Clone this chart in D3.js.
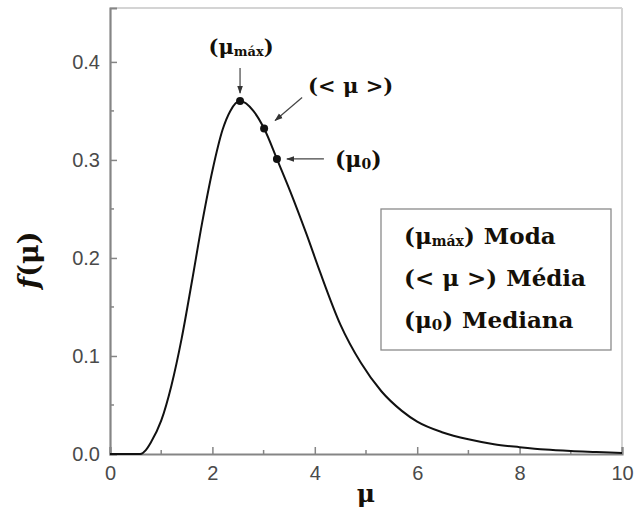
<!DOCTYPE html>
<html>
  <head>
    <meta charset="UTF-8">
    <title>f(mu)</title>
    <script src="https://d3js.org/d3.v7.min.js"></script>
    <style>
      body { margin: 0; background: #fff; }
      .serif { font-family: "DejaVu Serif", serif; font-weight: bold; fill: #151008; }
    </style>
  </head>
  <body>
    <svg width="636" height="511"></svg>
    <script>
      // curve values
      var mu = [0, 0.59, 0.7, 0.8, 1.0, 1.2, 1.4, 1.6, 1.8, 2.0, 2.2, 2.35, 2.54, 2.8, 3.01, 3.26, 3.52, 3.84, 4.1, 4.5, 4.9, 5.3, 5.7, 6.0, 6.5, 7.0, 7.5, 8.0, 8.5, 9.0, 9.5, 10];
      var f  = [0, 0, 0.004, 0.012, 0.034, 0.07, 0.118, 0.176, 0.236, 0.289, 0.331, 0.350, 0.360, 0.350, 0.332, 0.301, 0.268, 0.224, 0.186, 0.132, 0.093, 0.064, 0.044, 0.033, 0.022, 0.015, 0.010, 0.007, 0.0045, 0.003, 0.002, 0.001];

      // marked points: moda, media, mediana
      var pointMu = [2.54, 3.01, 3.26];
      var pointF = [0.360, 0.332, 0.301];

      var xTicks = [0, 2, 4, 6, 8, 10];
      var xMinor = [1, 3, 5, 7, 9];
      var yTicks = [0, 0.1, 0.2, 0.3, 0.4];
      var yMinor = [0.05, 0.15, 0.25, 0.35];

      var svg = d3.select("svg");
      var x = d3.scaleLinear().domain([0, 10]).range([110, 622]);
      var y = d3.scaleLinear().domain([0, 0.455]).range([454, 8]);

      // frame (top and right light)
      svg.append("line").attr("x1", x(0)).attr("x2", x(10)).attr("y1", y(0.455)).attr("y2", y(0.455))
        .attr("stroke", "#d4d4d4").attr("stroke-width", 2);
      svg.append("line").attr("x1", x(10)).attr("x2", x(10)).attr("y1", y(0.455)).attr("y2", y(0))
        .attr("stroke", "#d4d4d4").attr("stroke-width", 2);

      // axes
      var axisColor = "#858585";
      var gx = svg.append("g").attr("transform", "translate(0," + y(0) + ")");
      gx.call(d3.axisBottom(x).tickValues(xTicks).tickSize(-7).tickPadding(12).tickFormat(d3.format("d")));
      gx.selectAll(".minor").data(xMinor).enter().append("line")
        .attr("x1", d => x(d)).attr("x2", d => x(d)).attr("y1", 0).attr("y2", -4)
        .attr("stroke", axisColor).attr("stroke-width", 1.5);

      var gy = svg.append("g").attr("transform", "translate(" + x(0) + ",0)");
      gy.call(d3.axisLeft(y).tickValues(yTicks).tickSize(-7).tickPadding(10).tickFormat(d3.format(".1f")));
      gy.selectAll(".minor").data(yMinor).enter().append("line")
        .attr("x1", 0).attr("x2", 4).attr("y1", d => y(d)).attr("y2", d => y(d))
        .attr("stroke", axisColor).attr("stroke-width", 1.5);

      svg.selectAll(".domain").attr("stroke", axisColor).attr("stroke-width", 2.2);
      svg.selectAll(".tick line").attr("stroke", axisColor).attr("stroke-width", 1.5);
      svg.selectAll(".tick text").attr("fill", "#4a4a4a")
        .style("font-family", "Liberation Sans, Arial, sans-serif").style("font-size", "20px");

      // curve
      var line = d3.line()
        .x(function(d, i) { return x(mu[i]); })
        .y(function(d) { return y(d); })
        .curve(d3.curveMonotoneX);

      svg.append("path")
        .datum(f)
        .attr("fill", "none")
        .attr("stroke", "#111")
        .attr("stroke-width", 2)
        .attr("d", line);

      // points
      svg.selectAll(".pt").data(pointMu).enter().append("circle")
        .attr("cx", d => x(d)).attr("cy", (d, i) => y(pointF[i])).attr("r", 4).attr("fill", "#111");

      // arrows
      svg.append("defs").append("marker")
        .attr("id", "ah").attr("viewBox", "0 0 10 10").attr("refX", 9).attr("refY", 5)
        .attr("markerWidth", 7).attr("markerHeight", 7).attr("orient", "auto")
        .append("path").attr("d", "M0,1.5 L10,5 L0,8.5 z").attr("fill", "#333");

      function arrow(x1, y1, x2, y2) {
        svg.append("line").attr("x1", x1).attr("y1", y1).attr("x2", x2).attr("y2", y2)
          .attr("stroke", "#444").attr("stroke-width", 1.2).attr("marker-end", "url(#ah)");
      }
      var px = pointMu.map(d => x(d)), py = pointF.map(d => y(d));
      arrow(px[0], py[0] - 33, px[0], py[0] - 8);
      arrow(px[1] + 38, py[1] - 31, px[1] + 11, py[1] - 8);
      arrow(px[2] + 47, py[2], px[2] + 10, py[2]);

      // annotation labels
      function muLabel(sel, sub, open, close) {
        sel.append("tspan").text(open + "\u03bc");
        if (sub) sel.append("tspan").style("font-size", sub.size).attr("dy", 2).text(sub.text);
        sel.append("tspan").attr("dy", sub ? -2 : 0).text(close);
      }
      var t1 = svg.append("text").attr("class", "serif").attr("x", px[0] + 1).attr("y", py[0] - 47)
        .attr("text-anchor", "middle").style("font-size", "21px");
      muLabel(t1, {text: "máx", size: "13px"}, "(", ")");

      svg.append("text").attr("class", "serif").attr("x", px[1] + 44).attr("y", py[1] - 36)
        .style("font-size", "21px").text("(< \u03bc >)");

      var t3 = svg.append("text").attr("class", "serif").attr("x", px[2] + 58).attr("y", py[2] + 8)
        .style("font-size", "22px");
      muLabel(t3, {text: "0", size: "14px"}, "(", ")");

      // legend box
      var lg = svg.append("g");
      lg.append("rect").attr("x", 381).attr("y", 209).attr("width", 230).attr("height", 141)
        .attr("fill", "#fff").attr("stroke", "#8a8a8a").attr("stroke-width", 1.3);
      var legendRows = [
        {open: "(", sub: {text: "máx", size: "14px"}, close: ")", name: "Moda"},
        {open: "(< \u03bc >)", sub: null, close: "", name: "Média"},
        {open: "(", sub: {text: "0", size: "15px"}, close: ")", name: "Mediana"}
      ];
      legendRows.forEach(function(r, i) {
        var t = lg.append("text").attr("class", "serif").attr("x", 404).attr("y", 244 + i * 42)
          .style("font-size", "23px");
        if (r.sub) {
          muLabel(t, r.sub, r.open, r.close);
        } else {
          t.append("tspan").text(r.open);
        }
        t.append("tspan").attr("dx", 9).text(r.name);
      });

      // axis titles
      svg.append("text").attr("class", "serif").attr("x", 366).attr("y", 502)
        .attr("text-anchor", "middle").style("font-size", "25px").text("\u03bc");

      var yt = svg.append("text").attr("class", "serif")
        .attr("transform", "translate(38,260) rotate(-90)")
        .attr("text-anchor", "middle").style("font-size", "27px");
      yt.append("tspan").style("font-style", "italic").text("f");
      yt.append("tspan").text("(\u03bc)");
    </script>
  </body>
</html>
